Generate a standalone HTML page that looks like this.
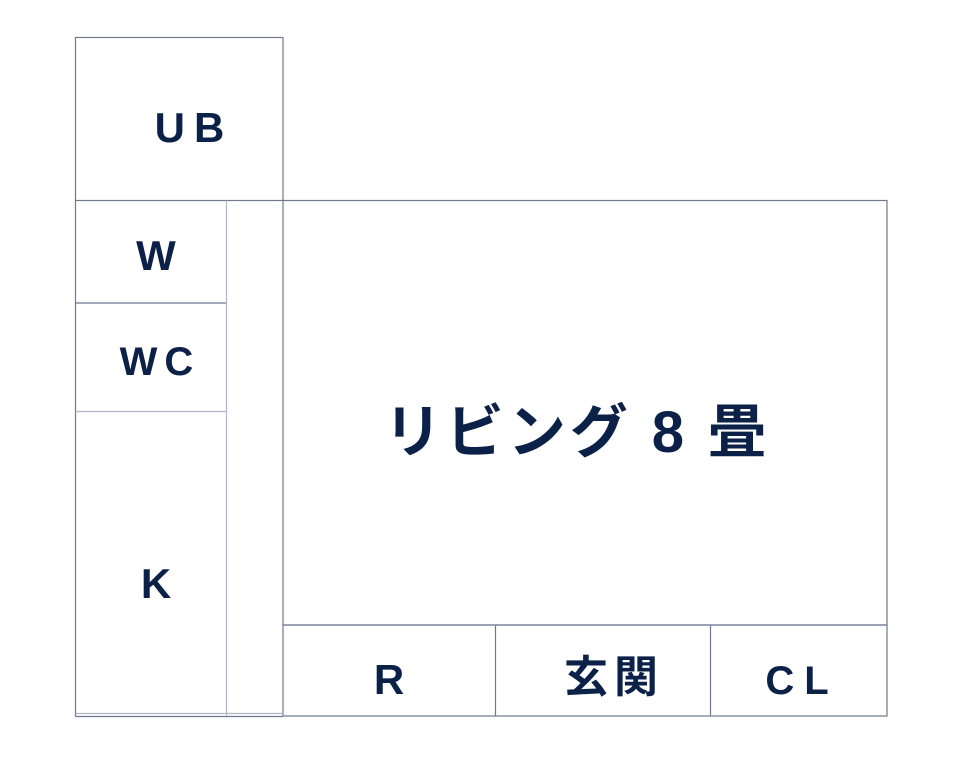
<!DOCTYPE html>
<html><head><meta charset="utf-8"><style>
html,body{margin:0;padding:0;background:#fff;}
svg{display:block}
text{font-family:"Liberation Sans","Noto Sans CJK JP",sans-serif;font-weight:bold;fill:#0c2148;}
</style></head><body>
<svg width="960" height="774" viewBox="0 0 960 774" xmlns="http://www.w3.org/2000/svg">
<g fill="none" stroke="#6f7890" stroke-width="1.2">
<rect x="75.5" y="37.5" width="207.5" height="163"/>
<rect x="283" y="200.5" width="604" height="424.5"/>
<rect x="283" y="625" width="604" height="91"/>
<line x1="495.5" y1="625" x2="495.5" y2="716"/>
<line x1="710.5" y1="625" x2="710.5" y2="716"/>
<line x1="75.5" y1="200.5" x2="75.5" y2="716.5"/>
<line x1="75.5" y1="716.5" x2="283" y2="716.5"/>
<line x1="75.5" y1="303" x2="226" y2="303"/>
</g>
<g fill="none" stroke="#b0b6c4" stroke-width="1.2">
<line x1="226.5" y1="200.5" x2="226.5" y2="716"/>
<line x1="75.5" y1="411.5" x2="226" y2="411.5"/>
<line x1="75.5" y1="713.5" x2="283" y2="713.5"/>
</g>
<text x="194" y="142" font-size="42" text-anchor="middle" letter-spacing="9">UB</text>
<text x="156" y="270" font-size="42" text-anchor="middle">W</text>
<text x="160" y="375" font-size="40" text-anchor="middle" letter-spacing="7">WC</text>
<text x="156" y="598" font-size="42" text-anchor="middle">K</text>
<text x="389" y="694" font-size="42" text-anchor="middle">R</text>
<text x="614" y="692" font-size="44" text-anchor="middle" letter-spacing="6">玄関</text>
<text x="802" y="694" font-size="40" text-anchor="middle" letter-spacing="10">CL</text>
<text x="384" y="452" font-size="58" textLength="382" lengthAdjust="spacing">リビング 8 畳</text>
</svg>
</body></html>
